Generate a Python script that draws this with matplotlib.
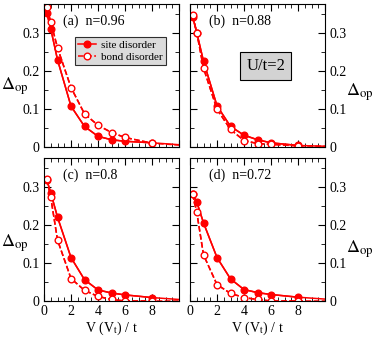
import numpy as np
import matplotlib
matplotlib.use('Agg')
import matplotlib.pyplot as plt
from matplotlib.ticker import MultipleLocator

plt.rcParams['font.family'] = ['Liberation Serif', 'DejaVu Serif']
plt.rcParams['mathtext.fontset'] = 'stix'

# ── datos ──────────────────────────────────────────────────────────────────
V = [0.2, 0.5, 1, 2, 3, 4, 5, 6, 8, 10]

site_a = [0.352, 0.310, 0.229, 0.107, 0.054, 0.028, 0.019, 0.015, 0.011, 0.006]
bond_a = [0.366, 0.328, 0.260, 0.156, 0.087, 0.057, 0.038, 0.025, 0.010, 0.005]

site_b = [0.341, 0.300, 0.225, 0.108, 0.054, 0.031, 0.019, 0.011, 0.004, 0.002]
bond_b = [0.345, 0.300, 0.207, 0.099, 0.046, 0.017, 0.009, 0.007, 0.003, 0.002]

site_c = [0.318, 0.284, 0.220, 0.114, 0.056, 0.029, 0.021, 0.016, 0.009, 0.004]
bond_c = [0.319, 0.272, 0.160, 0.059, 0.028, 0.012, 0.004, 0.000, 0.000, 0.000]

site_d = [0.280, 0.260, 0.205, 0.114, 0.058, 0.030, 0.022, 0.017, 0.010, 0.005]
bond_d = [0.280, 0.233, 0.121, 0.043, 0.020, 0.009, 0.004, 0.000, 0.000, 0.000]

panel_labels = ['(a)  n=0.96', '(b)  n=0.88', '(c)  n=0.8', '(d)  n=0.72']

# ── figura ─────────────────────────────────────────────────────────────────
fig = plt.figure(figsize=(3.74, 3.37), dpi=100)

W, H = 135/374, 143/337
lefts = [44/374, 190/374]
bottoms = [1 - 147/337, 1 - 301/337]
# posiciones de las etiquetas Δ_op (pixeles desde arriba)
ylab_x = [1/374, 346/374]
ylab_y = [[86, 92], [243, 249]]

series = [(site_a, bond_a), (site_b, bond_b), (site_c, bond_c), (site_d, bond_d)]
for k, (s, b) in enumerate(series):
    row, col = divmod(k, 2)
    ax = fig.add_axes([lefts[col], bottoms[row], W, H])
    ax.plot(V, s, '-', color='red', lw=1.1)
    ax.plot(V[:-1], s[:-1], 'o', color='red', ms=4.8, label='site disorder', ls='-', lw=1.1)
    ax.plot(V, b, '--', color='red', lw=1.1)
    ax.plot(V[:-1], b[:-1], 'o', color='red', mfc='white', mec='red', mew=1.0,
            ms=4.8, ls='--', lw=1.1, label='bond disorder')
    ax.set_xlim(0, 10)
    ax.set_ylim(0, 0.375)
    ax.xaxis.set_major_locator(MultipleLocator(2))
    ax.xaxis.set_minor_locator(MultipleLocator(0.5))
    ax.yaxis.set_major_locator(MultipleLocator(0.1))
    ax.yaxis.set_minor_locator(MultipleLocator(0.05))
    ax.tick_params(which='both', direction='in', top=True, right=True,
                   labelsize=10, pad=3)
    ax.tick_params(which='major', length=5)
    ax.tick_params(which='minor', length=3)
    ax.set_yticks([0, 0.1, 0.2, 0.3])
    ax.set_yticklabels(['0', '0.1', '0.2', '0.3'])
    if row == 0:
        ax.set_xticklabels([])
    else:
        ax.set_xticks([0, 2, 4, 6, 8])
        ax.set_xticklabels(['0', '2', '4', '6', '8'])
        ax.set_xlabel(r'V (V$_{\rm t}$) / t', fontsize=10, labelpad=1)
    if col == 1:
        ax.yaxis.tick_right()
        ax.tick_params(which='both', left=True, labelleft=False, labelright=True)
    fig.text(ylab_x[col], 1 - ylab_y[row][col]/337, r'$\Delta_{\rm op}$',
             fontsize=13, ha='left', va='center')
    ax.text(0.14, 0.88, panel_labels[k], transform=ax.transAxes, fontsize=10,
            va='center')
    if k == 0:
        leg = ax.legend(loc='upper left', bbox_to_anchor=(0.23, 0.77), fontsize=8,
                        frameon=True, fancybox=False, handlelength=1.6,
                        borderpad=0.3, labelspacing=0.2, handletextpad=0.4,
                        borderaxespad=0)
        leg.get_frame().set_facecolor('#d3d3d3')
        leg.get_frame().set_edgecolor('black')
        leg.get_frame().set_linewidth(0.8)
    if k == 1:
        ax.text(0.56, 0.566, 'U/t=2', transform=ax.transAxes, fontsize=12,
                ha='center', va='center',
                bbox=dict(boxstyle='square,pad=0.35', fc='#d3d3d3', ec='black', lw=0.8))

fig.savefig('out.png', dpi=100)
